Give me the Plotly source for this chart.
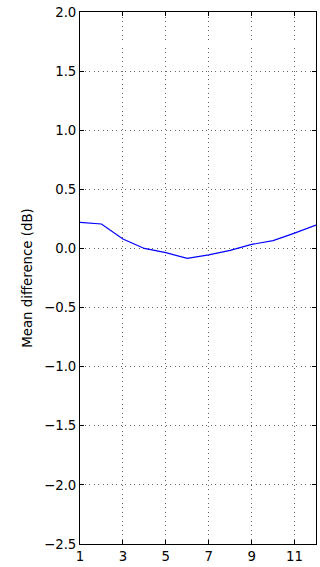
import plotly.graph_objects as go

# Mean difference per index
index = [1, 2, 3, 4, 5, 6, 7, 8, 9, 10, 11, 12]
mean_diff_db = [0.221, 0.207, 0.080, 0.0, -0.036, -0.084, -0.054, -0.017, 0.034, 0.066, 0.130, 0.198]

x_ticks = [1, 3, 5, 7, 9, 11]
y_ticks = [-2.5, -2.0, -1.5, -1.0, -0.5, 0.0, 0.5, 1.0, 1.5, 2.0]

FONT = dict(family="DejaVu Sans", size=13.3, color="black")

fig = go.Figure(
    go.Scatter(
        x=index,
        y=mean_diff_db,
        mode="lines",
        line=dict(color="#0000ff", width=1.2),
        hoverinfo="skip",
    )
)

axis_common = dict(
    showline=True,
    linecolor="black",
    linewidth=1,
    mirror="ticks",
    ticks="inside",
    ticklen=4,
    tickcolor="black",
    showgrid=True,
    gridcolor="#666666",
    gridwidth=1,
    griddash="1px,3.5px",
    zeroline=False,
    tickfont=FONT,
)

fig.update_xaxes(
    range=[1, 12],
    tickvals=x_ticks,
    ticktext=[str(t) for t in x_ticks],
    **axis_common,
)
fig.update_yaxes(
    range=[-2.5, 2.0],
    tickvals=y_ticks,
    tickformat=".1f",
    title=dict(text="Mean difference (dB)", font=FONT, standoff=8),
    **axis_common,
)

fig.update_layout(
    width=320,
    height=567,
    margin=dict(l=80, r=3, t=12, b=20),
    paper_bgcolor="white",
    plot_bgcolor="white",
    showlegend=False,
    font=FONT,
)

fig.write_html("out.html")
